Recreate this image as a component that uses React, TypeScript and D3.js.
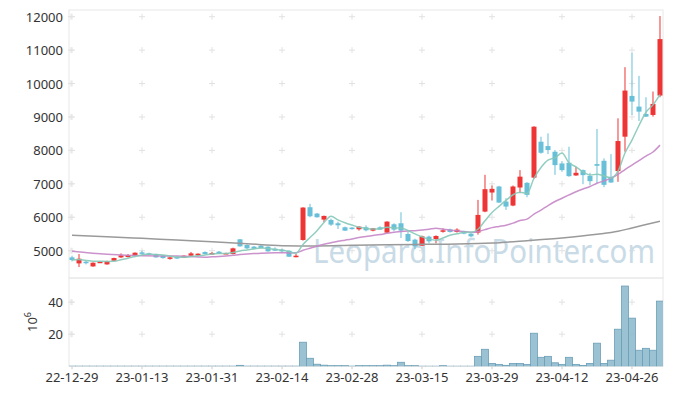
import React, { useEffect, useRef } from "react";
import * as d3 from "d3";

// trading days shown on the chart
const dates = [
  "22-12-29",
  "23-01-02", "23-01-03", "23-01-04", "23-01-05", "23-01-06", "23-01-09", "23-01-10", "23-01-11", "23-01-12", "23-01-13",
  "23-01-16", "23-01-17", "23-01-18", "23-01-19", "23-01-20", "23-01-25", "23-01-26", "23-01-27", "23-01-30", "23-01-31",
  "23-02-01", "23-02-02", "23-02-03", "23-02-06", "23-02-07", "23-02-08", "23-02-09", "23-02-10", "23-02-13", "23-02-14",
  "23-02-15", "23-02-16", "23-02-17", "23-02-20", "23-02-21", "23-02-22", "23-02-23", "23-02-24", "23-02-27", "23-02-28",
  "23-03-02", "23-03-03", "23-03-06", "23-03-07", "23-03-08", "23-03-09", "23-03-10", "23-03-13", "23-03-14", "23-03-15",
  "23-03-16", "23-03-17", "23-03-20", "23-03-21", "23-03-22", "23-03-23", "23-03-24", "23-03-27", "23-03-28", "23-03-29",
  "23-03-30", "23-03-31", "23-04-03", "23-04-04", "23-04-05", "23-04-06", "23-04-07", "23-04-10", "23-04-11", "23-04-12",
  "23-04-13", "23-04-14", "23-04-17", "23-04-18", "23-04-19", "23-04-20", "23-04-21", "23-04-24", "23-04-25", "23-04-26",
  "23-04-27", "23-04-28", "23-05-02", "23-05-03",
];

const opens = [
  4800, 4620, 4670, 4530, 4650, 4590, 4700, 4800, 4810, 4850,
  4950, 4920, 4900, 4850, 4770, 4810, 4790, 4850, 4860, 4960,
  4900, 4970, 4910, 4900, 5340, 5170, 5120, 5150, 5120, 5060,
  5030, 5000, 4830, 5320, 6300, 6110, 5930, 5920, 5820, 5700,
  5690, 5640, 5700, 5600, 5700, 5540, 5790, 5820, 5500, 5330,
  5150, 5420, 5350, 5580, 5640, 5560, 5590, 5510, 5540, 6170,
  6740, 6920, 6470, 6350, 6890, 7030, 7185, 8260, 8130, 7960,
  7610, 7630, 7250, 7410, 7240, 7590, 7690, 7210, 7380, 8410,
  9630, 9310, 9090, 9060, 9640,
];
const highs = [
  4850, 4900, 4700, 4650, 4690, 4700, 4790, 4920, 4900, 4950,
  5000, 4940, 4910, 4870, 4820, 4830, 4860, 4960, 4920, 4980,
  4960, 4990, 4940, 5090, 5350, 5190, 5140, 5170, 5130, 5100,
  5060, 5010, 4900, 6300, 6400, 6130, 6050, 5960, 5870, 5720,
  5710, 5730, 5760, 5680, 5730, 5880, 5820, 6150, 5560, 5360,
  5450, 5450, 5460, 5670, 5660, 5670, 5600, 5530, 6520, 7270,
  6950, 6940, 6570, 6950, 7410, 7050, 8720, 8410, 8510, 8010,
  7680, 8110, 7510, 7430, 7330, 8640, 7760, 7890, 8960, 10490,
  10920, 10230, 9590, 9760, 12020,
];
const lows = [
  4680, 4510, 4590, 4520, 4640, 4580, 4690, 4780, 4800, 4840,
  4880, 4880, 4790, 4760, 4730, 4750, 4780, 4840, 4850, 4890,
  4890, 4900, 4900, 4890, 5120, 5050, 5050, 5070, 4970, 4990,
  4960, 4810, 4800, 5300, 6000, 5990, 5850, 5740, 5650, 5590,
  5630, 5600, 5580, 5580, 5620, 5530, 5580, 5380, 5260, 5050,
  5140, 5220, 5220, 5540, 5540, 5540, 5490, 5400, 5480, 6150,
  6500, 6430, 6220, 6330, 6720, 6600, 7150, 7900, 7890, 7270,
  7360, 7210, 7240, 6990, 6960, 7020, 6900, 7030, 7060, 7960,
  9060, 8880, 9000, 9010, 9590,
];
const closes = [
  4720, 4760, 4630, 4640, 4670, 4690, 4780, 4860, 4870, 4940,
  4920, 4900, 4800, 4780, 4800, 4770, 4850, 4920, 4910, 4900,
  4930, 4910, 4930, 5070, 5130, 5070, 5060, 5080, 4980, 5000,
  4980, 4820, 4850, 6290, 6030, 6000, 6040, 5780, 5760, 5600,
  5650, 5720, 5610, 5670, 5630, 5870, 5630, 5600, 5290, 5130,
  5430, 5280, 5440, 5610, 5560, 5630, 5510, 5430, 6070, 6840,
  6850, 6440, 6320, 6920, 7215, 6670, 8710, 7930, 8010, 7560,
  7410, 7230, 7330, 7260, 7080, 7540, 6970, 7040, 8280, 9790,
  9460, 9160, 9010, 9390, 11330,
];
// volume in millions of shares
const volumes = [
  0.1, 0.1, 0.1, 0.1, 0.1, 0.1, 0.1, 0.1, 0.1, 0.1,
  0.1, 0.1, 0.1, 0.1, 0.1, 0.1, 0.1, 0.1, 0.1, 0.1,
  0.1, 0.1, 0.1, 0.1, 0.6, 0.1, 0.1, 0.1, 0.1, 0.1,
  0.1, 0.1, 0.1, 15, 5, 1.3, 0.7, 0.4, 0.4, 0.4,
  0.1, 0.4, 0.4, 0.4, 0.4, 0.7, 0.4, 2.5, 0.4, 0.4,
  0.05, 0.05, 0.05, 0.4, 0.05, 0.05, 0.05, 0.05, 6.2, 10.6,
  1.8, 1.2, 0.6, 1.8, 1.8, 1.2, 20.6, 5.6, 6.2, 2.2,
  1.2, 5.6, 1.2, 0.5, 1.8, 14.4, 1.8, 3.8, 23.1, 50,
  30, 10, 11.2, 10, 40.6,
];

// 20 day average before enough closes exist, index -> value
const ma20Lead = [[0, 4980], [5, 4890], [10, 4845], [15, 4840]];
// 120 day average, index -> value
const ma120 = [
  [0, 5460], [5, 5420], [10, 5370], [15, 5320], [20, 5270], [25, 5210], [30, 5150],
  [35, 5140], [40, 5160], [45, 5180], [50, 5190], [55, 5200], [60, 5230], [65, 5300],
  [70, 5380], [75, 5490], [78, 5580], [80, 5680], [84, 5880],
];

const tickDates = ["22-12-29", "23-01-13", "23-01-31", "23-02-14", "23-02-28", "23-03-15", "23-03-29", "23-04-12", "23-04-26"];
const priceTicks = [5000, 6000, 7000, 8000, 9000, 10000, 11000, 12000];
const volumeTicks = [20, 40];

const UP = "#ee3535";
const DOWN = "#67bfd8";
const FONT = "'Noto Sans', sans-serif";

function movingAvg(n: number) {
  const out: [number, number][] = [];
  closes.forEach((c, i) => {
    if (i < n - 1) return;
    out.push([i, d3.mean(closes.slice(i - n + 1, i + 1)) as number]);
  });
  return out;
}

export default function App() {
  const ref = useRef<SVGSVGElement>(null);

  useEffect(() => {
    const svg = d3.select(ref.current);
    svg.selectAll("*").remove();

    const left = 69, right = 663;
    const top = 10, mid = 278, bottom = 366.3;

    const x = d3.scaleLinear().domain([-0.43, dates.length - 0.57]).range([left, right]);
    const y = d3.scaleLinear().domain([4183, 12200]).range([mid, top]);
    const yv = d3.scaleLinear().domain([0, 55]).range([bottom, mid]);

    const tickIdx = tickDates.map((t) => dates.indexOf(t));

    svg.append("defs").append("clipPath").attr("id", "plotClip")
      .append("rect").attr("x", left).attr("y", top).attr("width", right - left).attr("height", bottom - top);

    // panel frames
    svg.append("rect").attr("x", left).attr("y", top).attr("width", right - left).attr("height", mid - top)
      .attr("fill", "none").attr("stroke", "#e8e8e8");
    svg.append("rect").attr("x", left).attr("y", mid).attr("width", right - left).attr("height", bottom - mid)
      .attr("fill", "none").attr("stroke", "#e8e8e8");

    // little "+" marks at grid intersections
    const cross = (cx: number, cy: number) => {
      svg.append("path").attr("d", `M${cx - 3},${cy}H${cx + 3}M${cx},${cy - 3}V${cy + 3}`)
        .attr("stroke", "#e2e2e2").attr("stroke-width", 1);
    };
    tickIdx.forEach((i) => {
      priceTicks.forEach((p) => cross(x(i), y(p)));
      volumeTicks.forEach((v) => cross(x(i), yv(v)));
    });
    priceTicks.forEach((p) => cross(left + 2, y(p)));
    volumeTicks.forEach((v) => cross(left + 2, yv(v)));

    // watermark
    svg.append("text").attr("x", 484).attr("y", 263).attr("text-anchor", "middle")
      .attr("font-family", FONT).attr("font-size", 32).attr("fill", "#c9dbe6")
      .attr("textLength", 342).attr("lengthAdjust", "spacingAndGlyphs")
      .text("Leopard.InfoPointer.com");

    const plot = svg.append("g").attr("clip-path", "url(#plotClip)");

    // volume bars
    plot.selectAll(".vol").data(volumes).join("rect").attr("class", "vol")
      .attr("x", (d, i) => x(i) - 3.5).attr("width", 7)
      .attr("y", (d) => yv(d)).attr("height", (d) => bottom - yv(d))
      .attr("fill", "#90bbce").attr("fill-opacity", 0.9)
      .attr("stroke", "#6b9fb7").attr("stroke-width", 0.8);

    // candles
    const candles = plot.selectAll(".candle").data(closes).join("g").attr("class", "candle");
    candles.append("line")
      .attr("x1", (d, i) => x(i)).attr("x2", (d, i) => x(i))
      .attr("y1", (d, i) => y(highs[i])).attr("y2", (d, i) => y(lows[i]))
      .attr("stroke", (d, i) => (d >= opens[i] ? UP : DOWN)).attr("stroke-width", 1);
    candles.append("rect")
      .attr("x", (d, i) => x(i) - 2.5).attr("width", 5)
      .attr("y", (d, i) => y(Math.max(d, opens[i])))
      .attr("height", (d, i) => Math.max(1.5, Math.abs(y(d) - y(opens[i]))))
      .attr("fill", (d, i) => (d >= opens[i] ? UP : DOWN));

    // moving averages
    const line = d3.line<[number, number]>().x((d) => x(d[0])).y((d) => y(d[1])).curve(d3.curveMonotoneX);
    const ma5 = closes.map((c, i) => [i, d3.mean(closes.slice(Math.max(0, i - 4), i + 1)) as number] as [number, number]);
    const ma20 = [...(ma20Lead as [number, number][]), ...movingAvg(20)];

    plot.append("path").attr("d", line(ma120 as [number, number][])).attr("fill", "none")
      .attr("stroke", "#9a9a9a").attr("stroke-width", 1.5);
    plot.append("path").attr("d", line(ma20)).attr("fill", "none")
      .attr("stroke", "#c586c6").attr("stroke-width", 1.5).attr("stroke-opacity", 0.9);
    plot.append("path").attr("d", line(ma5)).attr("fill", "none")
      .attr("stroke", "#86c9b8").attr("stroke-width", 1.5).attr("stroke-opacity", 0.9);

    // axes text
    svg.selectAll(".ptick").data(priceTicks).join("text").attr("class", "ptick")
      .attr("x", 63).attr("y", (d) => y(d) + 5).attr("text-anchor", "end")
      .attr("font-family", FONT).attr("font-size", 13).attr("fill", "#333")
      .text((d) => d);
    svg.selectAll(".vtick").data(volumeTicks).join("text").attr("class", "vtick")
      .attr("x", 63).attr("y", (d) => yv(d) + 5).attr("text-anchor", "end")
      .attr("font-family", FONT).attr("font-size", 13).attr("fill", "#333")
      .text((d) => d);

    // x axis ticks and labels
    tickIdx.forEach((i, k) => {
      svg.append("line").attr("x1", x(i)).attr("x2", x(i)).attr("y1", bottom).attr("y2", bottom + 3)
        .attr("stroke", "#cccccc");
      svg.append("text").attr("x", x(i)).attr("y", 382).attr("text-anchor", "middle")
        .attr("font-family", FONT).attr("font-size", 13).attr("fill", "#333")
        .text(tickDates[k]);
    });

    // 10^6 unit label
    const unit = svg.append("text").attr("transform", "translate(37,332) rotate(-90)")
      .attr("font-family", FONT).attr("font-size", 13).attr("fill", "#333");
    unit.append("tspan").text("10");
    unit.append("tspan").attr("dy", -6).attr("font-size", 9).text("6");
  }, []);

  return (
    <svg ref={ref} width={673} height={396} style={{ position: "absolute", left: 0, top: 0, background: "#fff" }} />
  );
}
